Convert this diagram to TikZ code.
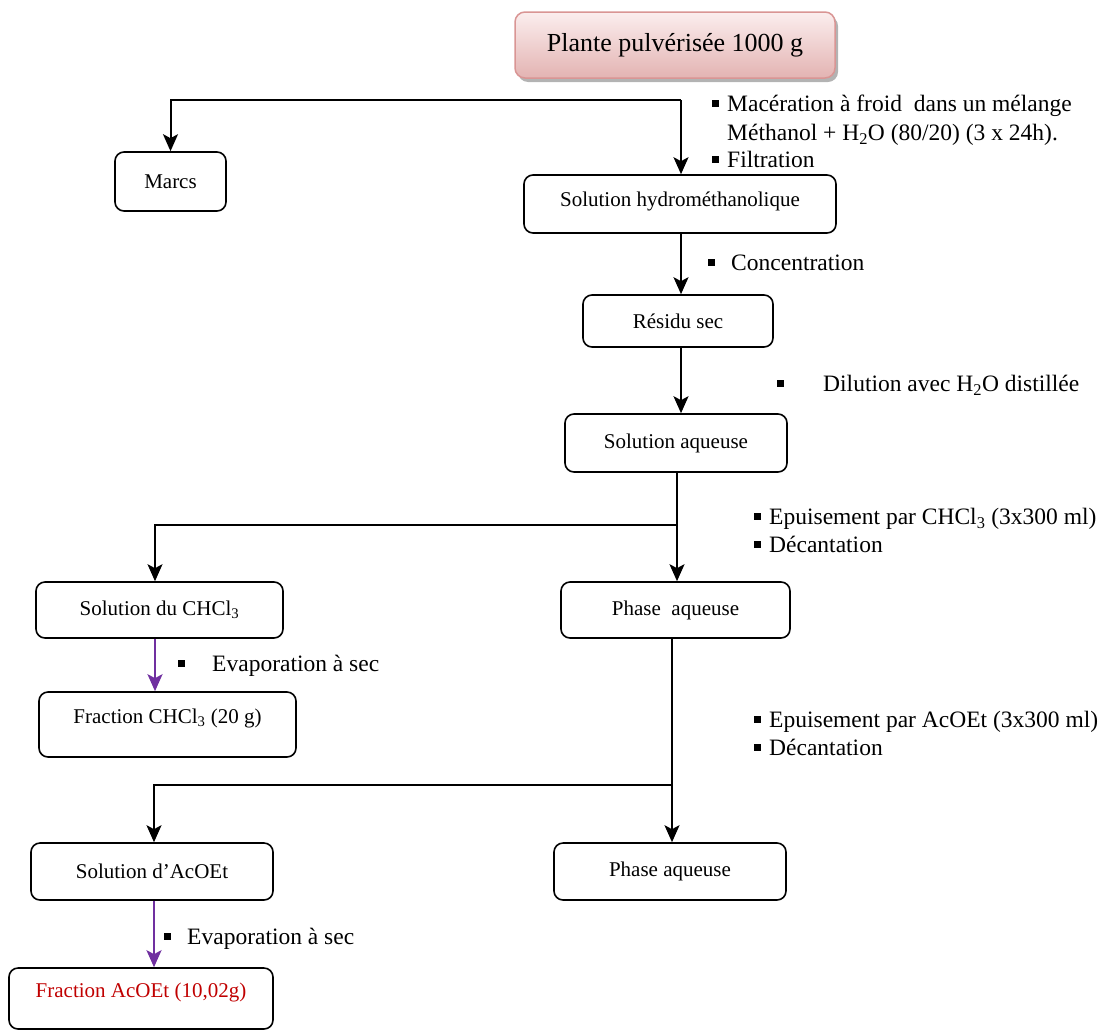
\documentclass[tikz,border=0pt]{standalone}
\usepackage{fontspec}
\setmainfont{Liberation Serif}
\usetikzlibrary{arrows.meta,shadows}
\definecolor{rosebord}{HTML}{D99594}
\definecolor{rosehaut}{HTML}{FBEEEE}
\definecolor{rosebas}{HTML}{E3B3B2}
\definecolor{etapeviolet}{HTML}{7030A0}
\definecolor{rougefr}{HTML}{C00000}
\newcommand{\puce}{\rule[0.2em]{0.29em}{0.29em}}
\tikzset{
  titre/.style={draw=rosebord,rounded corners=10pt,line width=1.5pt,
    top color=rosehaut,bottom color=rosebas,
    drop shadow={shadow xshift=3pt,shadow yshift=-4pt,fill=black!50,opacity=0.6},
    font=\fontsize{26}{30}\selectfont,inner sep=0pt},
  boite/.style={draw,rounded corners=9pt,line width=1.6pt,
    font=\fontsize{21}{25}\selectfont,inner sep=0pt},
  fleche/.style={line width=2pt,-{Stealth[length=17pt,width=15pt,inset=4pt]}},
  etiq/.style={anchor=west,inner sep=0pt,text height=1.5ex,text depth=0.25ex,
    yshift=-5pt,font=\fontsize{23.5}{28}\selectfont},
}

\begin{document}
\begin{tikzpicture}[x=1pt,y=-1pt]
    \useasboundingbox (0,0) rectangle (1102,1031);
    % boites
    \node[titre,minimum width=320pt,minimum height=66pt] (plante) at (675,45) {Plante pulvérisée 1000 g};
    \node[boite,minimum width=111pt,minimum height=59pt] (marcs) at (170.5,181.5) {Marcs};
    \node[boite,minimum width=312pt,minimum height=58pt,text depth=10pt] (hydro) at (680,204) {Solution hydrométhanolique};
    \node[boite,minimum width=190pt,minimum height=52pt] (residu) at (678,321) {Résidu sec};
    \node[boite,minimum width=222pt,minimum height=58pt] (aqueuse) at (676,443) {Solution aqueuse};
    \node[boite,minimum width=247pt,minimum height=56pt] (solchcl) at (159.5,610) {Solution du CHCl\textsubscript{3}};
    \node[boite,minimum width=229pt,minimum height=56pt] (phase1) at (675.5,610) {Phase\ \ aqueuse};
    \node[boite,minimum width=257pt,minimum height=65pt,text depth=17pt] (frchcl) at (167.5,724.5) {Fraction CHCl\textsubscript{3} (20 g)};
    \node[boite,minimum width=242pt,minimum height=57pt] (solacoet) at (152,871.5) {Solution d’AcOEt};
    \node[boite,minimum width=232pt,minimum height=57pt] (phase2) at (670,871.5) {Phase aqueuse};
    \node[boite,minimum width=264pt,minimum height=61pt,text depth=17pt,text=rougefr] (fracoet) at (141,998.5) {Fraction AcOEt (10,02g)};
    % fleches
    \coordinate (s1) at (681,100);
    \draw[fleche] (s1) -| (marcs.north);
    \draw[fleche] (s1) -- (s1 |- hydro.north);
    \draw[fleche] (hydro.south -| s1) -- (s1 |- residu.north);
    \draw[fleche] (residu.south -| s1) -- (s1 |- aqueuse.north);
    \coordinate (s2) at (677,525);
    \coordinate (c1) at (155,525);
    \draw[fleche] (aqueuse.south -| s2) -- (s2 |- phase1.north);
    \draw[fleche] (s2) -- (c1) -- (c1 |- solchcl.north);
    \draw[fleche,etapeviolet,line width=2.4pt] (c1 |- solchcl.south) -- (c1 |- frchcl.north);
    \coordinate (s3) at (672,785);
    \coordinate (c2) at (154,785);
    \draw[fleche] (phase1.south -| s3) -- (s3 |- phase2.north);
    \draw[fleche] (s3) -- (c2) -- (c2 |- solacoet.north);
    \draw[fleche,etapeviolet,line width=2.4pt] (c2 |- solacoet.south) -- (c2 |- fracoet.north);
    % etapes
    \node[etiq] (macer) at (712,104) {\puce\hspace{8.2pt}Macération à froid\ \ dans un mélange};
    \node[etiq] (metha) at (727,133) {Méthanol + H\textsubscript{2}O (80/20) (3 x 24h).};
    \node[etiq] (filtr) at (712,160) {\puce\hspace{8.2pt}Filtration};
    \node[etiq] (conc) at (708,263) {\puce\hspace{16.2pt}Concentration};
    \node[etiq] (dilu) at (777,384) {\puce\hspace{39.2pt}Dilution avec H\textsubscript{2}O distillée};
    \node[etiq] (epu1) at (754,517) {\puce\hspace{8.2pt}Epuisement par CHCl\textsubscript{3} (3x300 ml)};
    \node[etiq] (dec1) at (754,545) {\puce\hspace{8.2pt}Décantation};
    \node[etiq] (evap1) at (178,664) {\puce\hspace{27.2pt}Evaporation à sec};
    \node[etiq] (epu2) at (754,720) {\puce\hspace{8.2pt}Epuisement par AcOEt (3x300 ml)};
    \node[etiq] (dec2) at (754,748) {\puce\hspace{8.2pt}Décantation};
    \node[etiq] (evap2) at (164,937) {\puce\hspace{16.2pt}Evaporation à sec};
\end{tikzpicture}
\end{document}
